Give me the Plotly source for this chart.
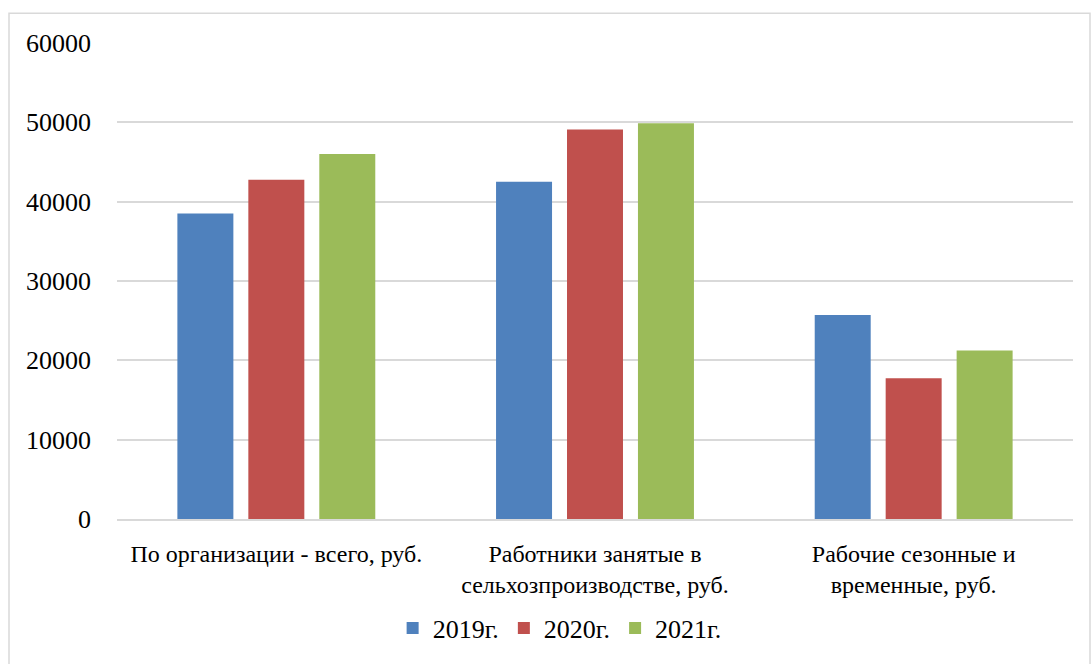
import plotly.graph_objects as go

categories = ["По организации - всего, руб.",
              "Работники занятые в<br>сельхозпроизводстве, руб.",
              "Рабочие сезонные и<br>временные, руб."]
series_names = ["2019г.", "2020г.", "2021г."]
values_2019 = [38500, 42500, 25700]
values_2020 = [42750, 49100, 17750]
values_2021 = [46000, 49900, 21250]
colors = ["#4f81bd", "#c0504d", "#9bbb59"]
y_ticks = [0, 10000, 20000, 30000, 40000, 50000, 60000]
y_tick_labels = ["0", "10000", "20000", "30000", "40000", "50000", "60000"]

FONT = "Liberation Serif"

fig = go.Figure()
for name, vals, col in zip(series_names, [values_2019, values_2020, values_2021], colors):
    fig.add_trace(go.Bar(x=categories, y=vals, name=name, marker=dict(color=col, line=dict(width=0))))

fig.update_layout(
    width=1091, height=664,
    margin=dict(l=117, r=18, t=43, b=141),
    paper_bgcolor="white", plot_bgcolor="white",
    barmode="group", bargap=0.332, bargroupgap=0.211,
    font=dict(family=FONT, color="black"),
    showlegend=True,
    legend=dict(orientation="h", x=0.463, xanchor="center", y=-0.229, yanchor="middle",
                font=dict(family=FONT, size=26, color="black"), itemwidth=30, traceorder="normal"),
    xaxis=dict(showgrid=False, showline=True, linecolor="#d9d9d9", linewidth=1.5,
               tickfont=dict(family=FONT, size=24, color="black"), ticks="", ticklabelstandoff=12),
    yaxis=dict(range=[0, 60000], tickvals=y_ticks, ticktext=y_tick_labels, showgrid=True,
               gridcolor="#d9d9d9", gridwidth=1.5, zeroline=False, showline=False,
               tickfont=dict(family=FONT, size=26, color="black"), ticks="", ticklabelstandoff=25),
    shapes=[dict(type="rect", xref="paper", yref="paper",
                 x0=(9 - 117) / 956, x1=(1090 - 117) / 956,
                 y0=(523 - 700) / 480, y1=(523 - 13) / 480,
                 line=dict(color="#d9d9d9", width=1.5), fillcolor="rgba(0,0,0,0)", layer="below")],
)

fig.write_html("out.html")
